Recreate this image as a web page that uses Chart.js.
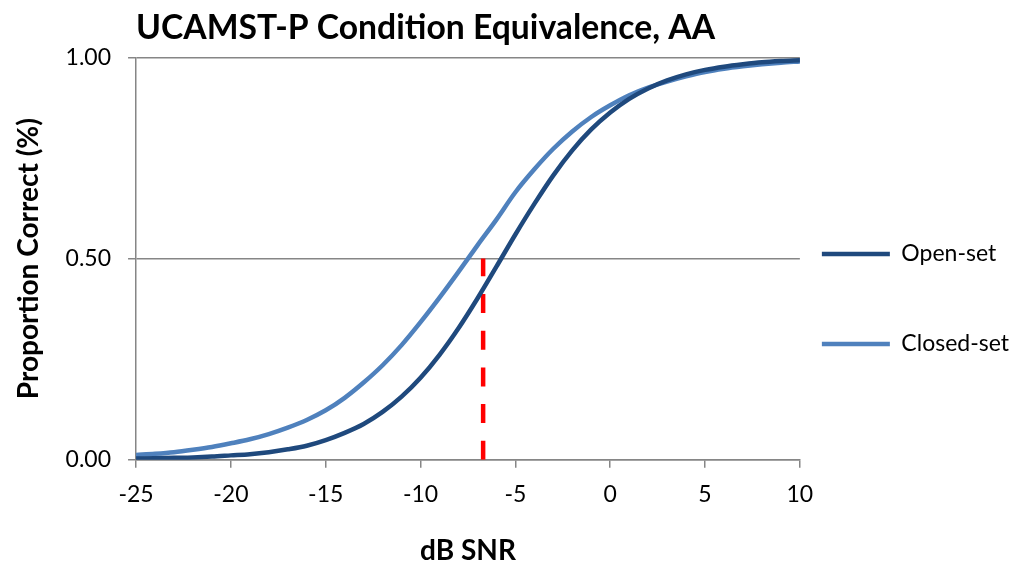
<!DOCTYPE html>
<html lang="en">
<head>
    <meta charset="UTF-8">
    <title>UCAMST-P Condition Equivalence, AA</title>
    <script src="https://cdn.jsdelivr.net/npm/chart.js"></script>
    <style>
        body { margin: 0; background: #fff; }
        #wrap { width: 1019px; height: 570px; }
    </style>
</head>
<body>
  <div id="wrap">
    <canvas id="curves"></canvas>
  </div>

  <script>
// dB SNR points and proportion correct
const snrDb = [-25, -24, -23, -22, -21, -20, -19, -18, -17, -16, -15, -14, -13, -12, -11, -10, -9, -8, -7, -6,
               -5, -4, -3, -2, -1, 0, 1, 2, 3, 4, 5, 6, 7, 8, 9, 10];
const openSet = [0.003, 0.004, 0.005, 0.006, 0.008, 0.011, 0.014, 0.019, 0.026, 0.035, 0.049, 0.067, 0.089, 0.119, 0.157, 0.204, 0.261, 0.327, 0.401, 0.480,
                 0.560, 0.636, 0.707, 0.769, 0.821, 0.863, 0.897, 0.923, 0.943, 0.958, 0.969, 0.977, 0.983, 0.988, 0.991, 0.993];
const closedSet = [0.012, 0.015, 0.019, 0.025, 0.032, 0.041, 0.051, 0.064, 0.080, 0.099, 0.123, 0.154, 0.192, 0.235, 0.285, 0.342, 0.403, 0.467, 0.533, 0.597,
                   0.665, 0.722, 0.773, 0.816, 0.852, 0.881, 0.906, 0.925, 0.940, 0.953, 0.964, 0.972, 0.978, 0.983, 0.987, 0.990];
// red dashed marker
const markerX = [-6.7, -6.7];
const markerY = [0, 0.5];

const xTicks = [-25, -20, -15, -10, -5, 0, 5, 10];
const yTicks = [0, 0.5, 1];

const toPoints = (xs, ys) => xs.map((x, i) => ({ x: x, y: ys[i] }));

const font = 'Lato, "Open Sans", sans-serif';
const axisGrey = '#868686';

new Chart(document.getElementById('curves'), {
    type: 'line',
    data: {
        datasets: [{
            label: 'Open-set',
            data: toPoints(snrDb, openSet),
            borderColor: '#1F497D',
            backgroundColor: '#1F497D',
            borderWidth: 4.5,
            pointRadius: 0,
            pointStyle: 'line',
            cubicInterpolationMode: 'monotone',
            borderCapStyle: 'round'
        }, {
            label: 'Closed-set',
            data: toPoints(snrDb, closedSet),
            borderColor: '#4F81BD',
            backgroundColor: '#4F81BD',
            borderWidth: 4.5,
            pointRadius: 0,
            pointStyle: 'line',
            cubicInterpolationMode: 'monotone',
            borderCapStyle: 'round'
        }, {
            label: 'marker',
            data: toPoints(markerX, markerY),
            borderColor: '#FF0000',
            borderWidth: 4.5,
            borderDash: [19, 17.7],
            pointRadius: 0
        }]
    },
    options: {
        responsive: true,
        maintainAspectRatio: false,
        animation: false,
        layout: { padding: { top: 8, right: 0, bottom: 2, left: 4 } },
        plugins: {
            title: {
                display: true,
                text: 'UCAMST-P Condition Equivalence, AA',
                align: 'start',
                fullSize: false,
                color: '#000',
                font: { family: font, size: 33.7, weight: 'bold' },
                padding: { top: 0, bottom: 9 }
            },
            legend: {
                position: 'right',
                // empty title only pushes the entries down a little
                title: { display: true, text: ' ', font: { size: 10 }, padding: { top: 10, bottom: 0 } },
                labels: {
                    usePointStyle: true,
                    pointStyleWidth: 68,
                    color: '#000',
                    font: { family: font, size: 23 },
                    padding: 22,
                    generateLabels: chart => {
                        const items = Chart.defaults.plugins.legend.labels.generateLabels(chart)
                            .filter(item => item.text !== 'marker');
                        // blank row between the two entries, as in the picture
                        const gap = { text: '', fillStyle: 'rgba(0,0,0,0)', strokeStyle: 'rgba(0,0,0,0)',
                                      lineWidth: 0, pointStyle: 'line', hidden: false, datasetIndex: -1 };
                        return [items[0], gap, items[1]];
                    }
                }
            },
            tooltip: { enabled: false }
        },
        scales: {
            x: {
                type: 'linear',
                min: -25,
                max: 10,
                afterBuildTicks: axis => { axis.ticks = xTicks.map(v => ({ value: v })); },
                grid: { drawOnChartArea: false, drawTicks: true, tickLength: 8, color: axisGrey, lineWidth: 1.5 },
                border: { color: axisGrey, width: 1.5 },
                ticks: { color: '#000', font: { family: font, size: 23 }, padding: 13, maxRotation: 0 },
                title: { display: true, text: 'dB SNR', color: '#000', font: { family: font, size: 28, weight: 'bold' }, padding: { top: 13, bottom: 0 } }
            },
            y: {
                min: 0,
                max: 1,
                afterBuildTicks: axis => { axis.ticks = yTicks.map(v => ({ value: v })); },
                grid: { drawTicks: true, tickLength: 8, color: axisGrey, lineWidth: 1.5 },
                border: { color: axisGrey, width: 1.5 },
                ticks: { color: '#000', font: { family: font, size: 23 }, padding: 17, callback: v => v.toFixed(2) },
                title: { display: true, text: 'Proportion Correct (%)', color: '#000', font: { family: font, size: 28, weight: 'bold' }, padding: { top: 8, bottom: 3 } }
            }
        }
    }
});
  </script>
</body>
</html>
